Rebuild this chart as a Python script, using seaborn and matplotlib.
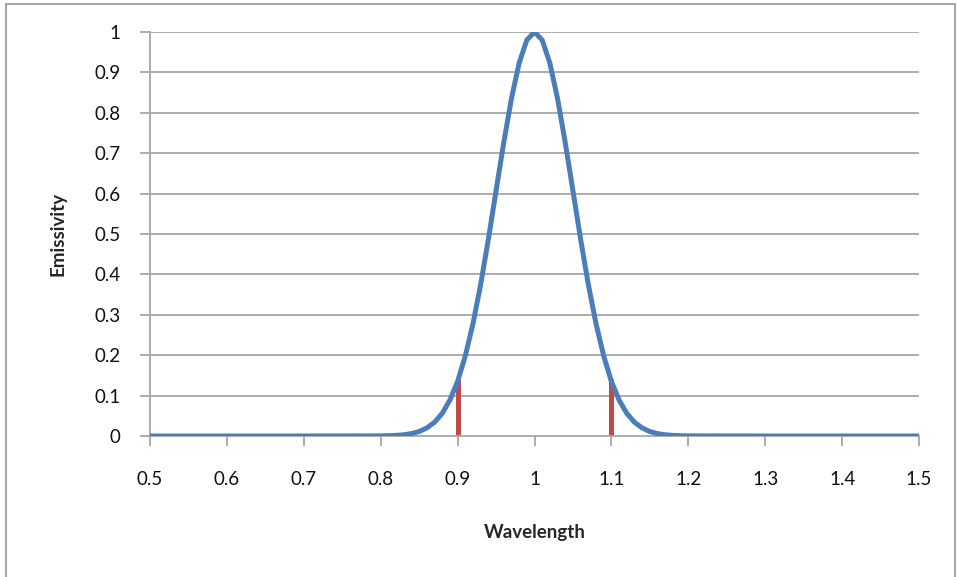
import matplotlib
matplotlib.use("Agg")
import matplotlib.pyplot as plt
import seaborn as sns
import pandas as pd
from matplotlib.patches import Rectangle

wavelength = [0.5, 0.6, 0.7, 0.8, 0.81, 0.82, 0.83, 0.84, 0.85, 0.86, 0.87, 0.88, 0.89,
              0.9, 0.91, 0.92, 0.93, 0.94, 0.95, 0.96, 0.97, 0.98, 0.99, 1.0,
              1.01, 1.02, 1.03, 1.04, 1.05, 1.06, 1.07, 1.08, 1.09, 1.1,
              1.11, 1.12, 1.13, 1.14, 1.15, 1.16, 1.17, 1.18, 1.19, 1.2, 1.3, 1.4, 1.5]
emissivity = [0.0, 0.0, 0.0, 0.0003, 0.0007, 0.0015, 0.003, 0.006, 0.011, 0.020, 0.034, 0.056, 0.089,
              0.135, 0.198, 0.278, 0.375, 0.487, 0.607, 0.726, 0.835, 0.923, 0.980, 1.0,
              0.980, 0.923, 0.835, 0.726, 0.607, 0.487, 0.375, 0.278, 0.198, 0.135,
              0.089, 0.056, 0.034, 0.020, 0.011, 0.006, 0.003, 0.0015, 0.0007, 0.0003, 0.0, 0.0, 0.0]
marker_x = [0.9, 1.1]
marker_h = [0.14, 0.14]
x_ticks = [0.5, 0.6, 0.7, 0.8, 0.9, 1.0, 1.1, 1.2, 1.3, 1.4, 1.5]
x_labels = ["0.5", "0.6", "0.7", "0.8", "0.9", "1", "1.1", "1.2", "1.3", "1.4", "1.5"]
y_ticks = [0, 0.1, 0.2, 0.3, 0.4, 0.5, 0.6, 0.7, 0.8, 0.9, 1.0]
y_labels = ["0", "0.1", "0.2", "0.3", "0.4", "0.5", "0.6", "0.7", "0.8", "0.9", "1"]

sns.set_style("white")
plt.rcParams['font.family'] = ['Lato', 'DejaVu Sans']

df = pd.DataFrame({"Wavelength": wavelength, "Emissivity": emissivity})

fig = plt.figure(figsize=(9.58, 5.77), dpi=100)
ax = fig.add_axes([150/958, 1-436/577, (919-150)/958, (436-32)/577])

grid_c = "#a6a6a6"
for yv in y_ticks[1:]:
    ax.axhline(yv, color=grid_c, lw=1.3, zorder=0)

sns.lineplot(data=df, x="Wavelength", y="Emissivity", ax=ax, color="#4a7ebb", lw=3.6, zorder=3)
ax.vlines(marker_x, 0, marker_h, color="#be4b48", lw=3.6, zorder=2)

ax.set_xlim(0.5, 1.5)
ax.set_ylim(0, 1)
ax.set_xticks(x_ticks)
ax.set_xticklabels(x_labels)
ax.set_yticks(y_ticks)
ax.set_yticklabels(y_labels)
ax.tick_params(axis="both", direction="out", length=7, width=1.3, color=grid_c,
               labelsize=13.5, labelcolor="#111111", bottom=True, left=True)
ax.tick_params(axis="y", pad=14)
ax.tick_params(axis="x", pad=18)

for s in ["top", "right"]:
    ax.spines[s].set_visible(False)
for s in ["left", "bottom"]:
    ax.spines[s].set_color(grid_c)
    ax.spines[s].set_linewidth(1.3)

ax.set_xlabel("Wavelength", fontsize=13.5, fontweight="bold", labelpad=26)
ax.set_ylabel("Emissivity", fontsize=13.5, fontweight="bold", labelpad=20)

fig.patches.append(Rectangle((6/958, -0.02), (955-6)/958, 1.02 - 4/577, transform=fig.transFigure,
                             fill=False, edgecolor="#a6a6a6", lw=1.5))

fig.savefig("out.png", dpi=100)
